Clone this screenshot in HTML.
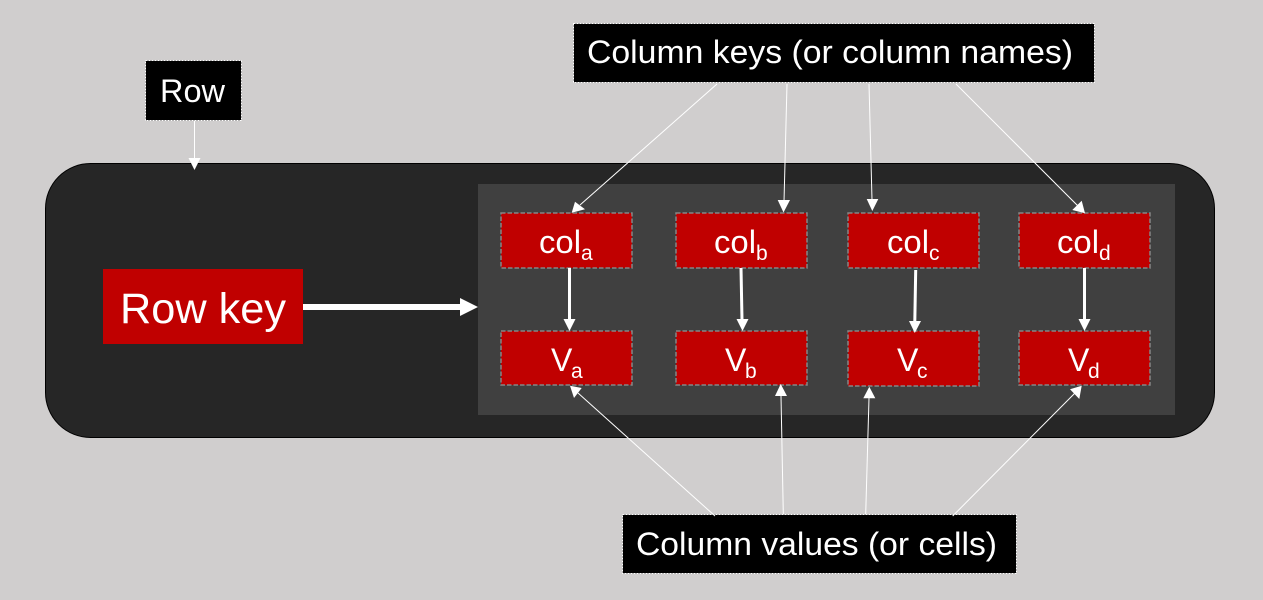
<!DOCTYPE html>
<html><head><meta charset="utf-8"><style>
html,body{margin:0;padding:0;background:#d0cece}
svg{display:block}
text{font-family:"Liberation Sans",sans-serif;fill:#fff}
</style></head><body>
<svg width="1263" height="600" viewBox="0 0 1263 600" xmlns="http://www.w3.org/2000/svg">
<rect width="1263" height="600" fill="#d0cece"/>
<rect x="45.500" y="163.500" width="1169" height="274" rx="45" fill="#262626" stroke="#000"/>
<rect x="478" y="184" width="697" height="231" fill="#404040"/>
<rect x="103" y="269" width="200" height="75" fill="#c00000"/>
<text x="120" y="323" font-size="43" textLength="166" lengthAdjust="spacingAndGlyphs">Row key</text>
<g fill="#c00000" stroke="#858585" stroke-width="1.500" stroke-dasharray="4.500 2">
<rect x="501" y="213" width="131" height="55"/><rect x="676" y="213" width="131" height="55"/><rect x="848" y="213" width="131" height="55"/><rect x="1019" y="213" width="131" height="55"/>
<rect x="501" y="331" width="131" height="54"/><rect x="676" y="331" width="131" height="54"/><rect x="848" y="331" width="131" height="55"/><rect x="1019" y="331" width="131" height="54"/>
</g>
<g font-size="32">
<text x="539" y="253" textLength="42" lengthAdjust="spacingAndGlyphs">col</text><text x="581" y="260" font-size="21">a</text>
<text x="714" y="253" textLength="42" lengthAdjust="spacingAndGlyphs">col</text><text x="756" y="260" font-size="21">b</text>
<text x="887" y="253" textLength="42" lengthAdjust="spacingAndGlyphs">col</text><text x="929" y="260" font-size="21">c</text>
<text x="1057" y="253" textLength="42" lengthAdjust="spacingAndGlyphs">col</text><text x="1099" y="260" font-size="21">d</text>
<text x="551" y="371">V</text><text x="571" y="378" font-size="21">a</text>
<text x="725" y="371">V</text><text x="745" y="378" font-size="21">b</text>
<text x="897" y="371">V</text><text x="917" y="378" font-size="21">c</text>
<text x="1068" y="371">V</text><text x="1088" y="378" font-size="21">d</text>
</g>
<g stroke="#fff" stroke-width="3" fill="#fff">
<line x1="303" y1="307" x2="462" y2="307" stroke-width="6"/><polygon points="460,298 478,307 460,316" stroke="none"/>
<line x1="569.500" y1="268" x2="569.500" y2="320"/><polygon points="563.500,319 575.500,319 569.500,331" stroke="none"/>
<line x1="741" y1="268" x2="742" y2="320"/><polygon points="736.500,319 748.500,319 742.500,331" stroke="none"/>
<line x1="915.700" y1="270" x2="914.800" y2="322"/><polygon points="909,321 921,321 914.800,333" stroke="none"/>
<line x1="1084.500" y1="268" x2="1084.500" y2="320"/><polygon points="1078.500,319 1090.500,319 1084.500,331" stroke="none"/>
</g>
<g stroke="#fff" stroke-width="1" fill="none">
<line x1="194.500" y1="120" x2="194.500" y2="160"/>
<line x1="717" y1="84" x2="580" y2="205"/>
<line x1="787" y1="84" x2="784" y2="202"/>
<line x1="869" y1="84" x2="872" y2="200"/>
<line x1="956" y1="84" x2="1078" y2="206"/>
</g>
<g fill="#fff">
<polygon points="188.500,158 200.500,158 194.500,170"/>
<polygon points="571.700,212.700 585,209.300 575,201.700"/>
<polygon points="777.700,200 790,200 783.500,212.500"/>
<polygon points="866.700,199 878.300,199 872.300,211"/>
<polygon points="1085,213.300 1072.300,210 1081.700,200.700"/>
<polygon points="570,385.700 581.700,388 574,398"/>
<polygon points="780.700,384 787,396 775,396"/>
<polygon points="869.300,386.700 875.300,398.300 863.300,398.300"/>
<polygon points="1081.700,385.700 1070,389.300 1079.300,399"/>
</g>
<g fill="#000" stroke="#fff" stroke-width="1" stroke-dasharray="2 1">
<rect x="145.500" y="60.500" width="96" height="60"/>
<rect x="573.500" y="23.500" width="521" height="59"/>
<rect x="622.500" y="514.500" width="394" height="59"/>
</g>
<g stroke="#fff" stroke-width="1" fill="none">
<line x1="715" y1="516" x2="578" y2="393"/>
<line x1="783.300" y1="514" x2="781" y2="396"/>
<line x1="865.700" y1="514" x2="869" y2="398"/>
<line x1="952.700" y1="516" x2="1075" y2="393"/>
</g>
<text x="160" y="102" font-size="32" textLength="65" lengthAdjust="spacingAndGlyphs">Row</text>
<text x="587" y="63" font-size="32" textLength="486" lengthAdjust="spacingAndGlyphs">Column keys (or column names)</text>
<text x="636" y="555" font-size="32" textLength="361" lengthAdjust="spacingAndGlyphs">Column values (or cells)</text>
</svg>
</body></html>
